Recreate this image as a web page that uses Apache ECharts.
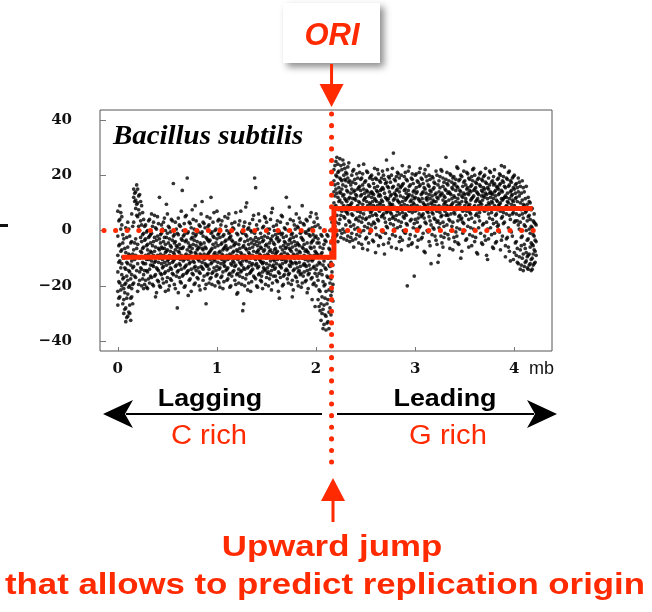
<!DOCTYPE html>
<html><head><meta charset="utf-8">
<script src="https://cdn.jsdelivr.net/npm/echarts@6/dist/echarts.min.js"></script>
<style>html,body{margin:0;padding:0;background:#fff}#c{width:652px;height:612px}</style>
</head><body><div id="c"></div>
<script>
// genome windows of 0.02 mb; skewWindows start at 0 mb, skewWindowsMid start at 0.01 mb.
// each row = skew values read in that window
const windowMb = 0.02;
const midOffsetMb = 0.01;
const skewWindows = [
[-2,-15,7,-22,-9,-27],[4,-11,-19,-5,9,-24],[-7,2,-16,-12,-20,5],[-25,-10,-30,-3,-17,-21],[-14,-28,1,-33,-8,-19],
[-18,-6,-31,-23,-12,3],[-27,-15,-2,-20,-9,-30],[-11,-24,-4,-16,6,-21],[12,-7,15,-13,3,-19],[8,14,-3,-17,11,-9],
[15,5,-12,10,-22,-5],[6,-10,13,-15,0,-18],[-4,9,-14,-20,2,-8],[-12,4,-6,-21,-1,-16],
[-3,-12,-18,2,-9],[-7,-15,0,-21,-5],[4,-10,-14,-2,-19],[-8,-1,-17,-11,6],[-13,-4,-20,3,-9],[-6,-16,1,-11,-24],
[-2,-9,-14,5,-18],[-10,-3,-20,-7,12],[2,-12,-6,-16,-1],[-9,-19,-4,3,-13],[-15,-5,0,-22,-8],[-1,-11,-17,6,-7],
[-12,-3,-9,-20,1],[-6,-14,4,-18,-10],[-8,-2,-16,-11,17],[3,-13,-7,-21,-4],[-10,-1,-15,-6,-28],[-5,-17,2,-12,-8],
[-14,-3,-9,7,-19],[0,-11,-6,-16,-2],[-9,-20,-4,5,-13],[-7,-15,-1,-10,19],[-12,3,-18,-6,-9],[-3,-14,-8,1,-22],
[-16,-5,-11,4,-1],[-8,-19,-2,-13,9],[-4,-10,-17,0,-7],[-11,2,-6,-15,-20],[-1,-13,-9,6,-5],[-14,-7,-18,-2,3],
[-6,-12,1,-10,-21],[-9,-3,-16,5,-13],[2,-8,-14,-4,-19],[-12,-1,-7,-17,12],[-5,-15,-10,3,-2],[-11,-6,-20,0,-8],
[-3,-13,-9,-16,7],
[-8,-1,-14,-19,4],[-12,-5,2,-10,-17],[-2,-15,-7,-21,-9],[5,-11,-4,-13,-6],[-9,-18,0,-7,-14],[-16,-3,-10,6,-1],
[-6,-12,-20,-2,-9],[1,-8,-15,-11,-4],[-13,-5,3,-18,-10],[-7,-16,-1,-9,-23],[-10,2,-14,-5,-19],[-3,-12,-8,7,-15],
[-17,-6,-1,-11,-29],[-4,-14,3,-9,-20],[-11,-2,-16,-7,10],[-8,-19,-5,1,-13],[0,-10,-15,-3,-22],[-14,-6,4,-12,-9],
[-5,-17,-1,-10,19],[-12,2,-8,-20,-4],[-7,-13,-3,6,-16],[-1,-11,-18,-6,-9],[-15,-4,1,-12,-21],[-9,-2,-14,5,-7],
[3,-10,-17,-5,-12],[-6,-15,-1,-9,-20],[-11,4,-7,-16,-3],[-2,-13,-8,-19,8],[-14,-5,0,-11,-7],[-8,-18,-3,2,-12],
[-4,-10,-15,-1,-22],[-13,3,-6,-17,-9],[-1,-12,-7,-20,5],[-10,-4,-16,1,-8],[-6,-14,-2,-11,12],[-16,0,-9,-5,-19],
[-3,-11,4,-13,-7],[-12,-6,-18,-1,-24],[2,-9,-14,-4,-10],[-7,-17,-2,6,-12],[-15,-5,1,-10,-20],[-1,-13,-8,3,-16],
[-10,-3,-19,-6,9],[-5,-12,2,-15,-9],[-13,-1,-7,-18,4],[-8,-16,0,-11,-21],[-2,-9,-14,5,-6],[-11,-4,-17,1,-25],
[-6,-13,3,-9,-19],[-14,-2,-8,-20,6],
[-9,-18,-3,-25,2],[-12,-22,-6,-29,1],[-16,-30,-8,-24,-2],[-20,-34,-11,-27,-5],[-14,-31,-4,-36,-22],[-10,-25,-17,-2,-33],
[-7,-19,-28,0,-13],[-4,-15,-22,-9,3],
[14,22,6,-3,18,10],[20,9,25,3,15,-2],[17,24,8,12,-4,21],[11,19,4,26,14,0],[22,7,15,-1,18,10],[13,20,5,24,9,-3],
[16,2,21,11,7,18],[9,23,14,-2,19,6],
[12,3,18,-4,9],[6,15,-1,20,10],[14,8,22,2,-6],[4,17,11,-3,13],[19,7,1,15,9],[10,-2,16,5,21],[3,13,8,19,-5],
[15,6,24,0,11],[8,18,-3,12,4],[21,9,14,1,-7],[5,16,10,-1,19],[12,2,20,7,14],[17,-4,9,13,3],[1,11,19,6,-8],
[14,22,4,9,16],[7,-2,13,18,10],[19,5,11,0,15],[9,15,-5,20,6],[3,12,17,8,-1],[16,7,22,1,11],[10,-3,14,4,19],
[13,20,6,-6,9],[5,16,11,2,28],[18,8,-2,13,4],[11,1,21,7,15],[6,14,-4,10,19],[20,3,9,16,-7],[8,17,12,0,5],
[15,-1,6,21,11],[2,12,18,9,-20],[13,7,-3,16,23],[9,19,4,11,-5],[17,1,14,8,10],[4,12,20,-2,7],[14,9,-6,18,3],
[6,16,11,1,21],[19,5,13,-3,8],[10,-1,17,6,14],[3,15,9,22,-8],[12,7,18,0,11],[16,-4,5,13,20],[8,14,2,10,-12],
[1,11,19,6,15],[13,4,-2,17,9],[7,20,12,-5,3],[18,9,1,14,-9],[5,13,22,8,-2],[11,-6,16,3,19],[15,7,10,-1,12],
[2,17,6,21,9],[14,-3,11,4,18],[9,20,0,13,6],[19,3,15,-7,10],[6,12,-4,17,8],[16,1,9,23,-2],[10,18,5,-5,13],
[4,14,20,8,-10],[12,-1,7,16,3],[25,9,13,0,18],[7,15,-3,10,21],[13,4,19,9,-6],[1,11,16,6,14],[18,8,-2,12,22],
[9,20,3,15,-4],[14,6,11,-8,17],[5,19,13,1,9],[16,-1,8,21,10],[11,14,2,18,-5],[20,7,12,-2,15],[3,13,17,9,-9],
[15,10,-3,19,6],[8,21,12,1,14],[13,4,18,-6,10],[17,9,-1,14,22],[6,16,11,3,-4],[19,2,13,9,15],[10,17,-7,7,20],
[14,5,11,-2,18],[8,23,16,3,12],[12,-3,9,19,6],[16,10,1,21,-6],[4,14,18,8,-11],[11,19,6,-2,13],[15,3,20,9,-8],
[12,-4,17,6,-9],[8,-12,14,2,19],[3,16,-7,10,-14],[11,-2,6,-10,18],[-5,9,14,-13,2],[7,-8,16,0,-11],
[-3,12,-14,5,-9],[4,-6,10,-12,-1],[-10,1,8,-5,-14],[-7,6,-2,-12,3],[-4,-9,2]
];
const skewWindowsMid = [
[-5.5,-18.5,3.5,-24.5,-11.5],[0.5,-13.5,-21.5,-7.5,6.5],[-9.5,-1.5,-17.5,-26.5,-4.5],[-22.5,-13.5,-28.5,-6.5,-19.5],[-11.5,-31.5,-2.5,-24.5,-16.5],
[-20.5,-8.5,-29.5,-14.5,0.5],[-24.5,-12.5,-4.5,-32.5,-17.5],[-8.5,-19.5,1.5,-13.5,-26.5],[10.5,-4.5,13.5,-10.5,-16.5],[5.5,16.5,-6.5,-14.5,9.5],
[12.5,1.5,-9.5,7.5,-19.5],[3.5,-13.5,10.5,-7.5,-2.5],[-1.5,6.5,-11.5,-17.5,-6.5],[-9.5,1.5,-14.5,-3.5,-19.5],
[-5.5,-14.5,-0.5,-10.5,-20.5],[-10.5,-2.5,-17.5,3.5,-8.5],[-1.5,-12.5,-7.5,-16.5,-4.5],[-12.5,-5.5,1.5,-19.5,-9.5],[-7.5,-16.5,-2.5,-11.5,5.5],
[-3.5,-9.5,-13.5,-22.5,0.5],[-11.5,-6.5,-18.5,2.5,-14.5],[-4.5,-15.5,-8.5,-1.5,-20.5],[-13.5,0.5,-10.5,-6.5,-17.5],[-6.5,-11.5,4.5,-15.5,-2.5],
[-2.5,-18.5,-7.5,-12.5,9.5],[-10.5,-4.5,-14.5,1.5,-21.5],[-7.5,-13.5,-0.5,-17.5,-5.5],[-15.5,-3.5,-9.5,3.5,-11.5],[-4.5,-10.5,-19.5,-1.5,-8.5],
[-9.5,0.5,-12.5,-16.5,-5.5],[-1.5,-14.5,-7.5,-22.5,4.5],[-12.5,-6.5,1.5,-10.5,-18.5],[-6.5,-16.5,-3.5,-9.5,14.5],[-10.5,-1.5,-13.5,-20.5,2.5],
[-3.5,-12.5,-8.5,5.5,-15.5],[-14.5,-4.5,-10.5,-0.5,-23.5],[-7.5,-17.5,2.5,-11.5,-5.5],[-2.5,-9.5,-15.5,-6.5,7.5],[-11.5,-3.5,-19.5,0.5,-13.5],
[-5.5,-14.5,-8.5,3.5,-1.5],[-13.5,-0.5,-10.5,-17.5,-6.5],[-8.5,-15.5,1.5,-4.5,-21.5],[-0.5,-11.5,-6.5,-13.5,10.5],[-10.5,-4.5,-16.5,2.5,-8.5],
[-6.5,-19.5,-2.5,-12.5,-26.5],[-12.5,1.5,-8.5,-15.5,-3.5],[-3.5,-10.5,-17.5,4.5,-7.5],[-15.5,-6.5,-0.5,-11.5,-19.5],[-8.5,-2.5,-13.5,6.5,-10.5],
[-4.5,-16.5,-9.5,0.5,-14.5],[-11.5,-1.5,-18.5,-5.5,3.5],
[-7.5,-13.5,-2.5,-20.5,0.5],[-10.5,-4.5,-16.5,3.5,-8.5],[-1.5,-12.5,-6.5,-18.5,-11.5],[-14.5,-5.5,1.5,-9.5,-3.5],[-6.5,-17.5,-10.5,4.5,-13.5],
[-2.5,-8.5,-15.5,-20.5,-0.5],[-12.5,-3.5,-9.5,2.5,-16.5],[-5.5,-14.5,0.5,-11.5,-7.5],[-9.5,-19.5,-4.5,6.5,-12.5],[-15.5,-1.5,-7.5,-10.5,-22.5],
[-3.5,-11.5,3.5,-16.5,-6.5],[-8.5,-14.5,-0.5,-19.5,-12.5],[-13.5,-5.5,-9.5,1.5,-26.5],[-1.5,-10.5,-17.5,-6.5,8.5],[-9.5,-3.5,-13.5,-21.5,0.5],
[-6.5,-15.5,2.5,-8.5,-11.5],[-12.5,-0.5,-18.5,-4.5,-14.5],[-3.5,-9.5,5.5,-16.5,-7.5],[-10.5,-17.5,-2.5,-12.5,15.5],[-7.5,-13.5,0.5,-20.5,-5.5],
[-15.5,-4.5,-10.5,3.5,-8.5],[-2.5,-11.5,-16.5,-6.5,-18.5],[-11.5,1.5,-7.5,-13.5,-3.5],[-5.5,-19.5,-9.5,4.5,-14.5],[-13.5,-2.5,-15.5,-8.5,0.5],
[0.5,-7.5,-12.5,-17.5,-4.5],[-9.5,-14.5,-3.5,-21.5,6.5],[-4.5,-12.5,1.5,-10.5,-16.5],[-16.5,-6.5,-1.5,-13.5,-8.5],[-7.5,-10.5,3.5,-18.5,-2.5],
[-12.5,-3.5,-15.5,-0.5,-24.5],[-1.5,-8.5,-13.5,5.5,-10.5],[-10.5,-16.5,-5.5,-2.5,-19.5],[-6.5,0.5,-11.5,-14.5,-4.5],[-14.5,-8.5,2.5,-17.5,-9.5],
[-3.5,-12.5,-6.5,8.5,-15.5],[-11.5,-1.5,-19.5,-7.5,-4.5],[-8.5,-14.5,-2.5,3.5,-21.5],[0.5,-9.5,-16.5,-5.5,-11.5],[-13.5,-4.5,-8.5,-18.5,1.5],
[-5.5,-11.5,4.5,-14.5,-7.5],[-9.5,-2.5,-15.5,-20.5,-0.5],[-3.5,-16.5,-6.5,2.5,-12.5],[-12.5,-7.5,-0.5,-10.5,-18.5],[-7.5,-14.5,3.5,-4.5,-22.5],
[-15.5,-1.5,-9.5,-12.5,0.5],[-4.5,-10.5,-17.5,6.5,-6.5],[-10.5,-3.5,-13.5,-19.5,-1.5],[-2.5,-15.5,-7.5,1.5,-27.5],[-8.5,-12.5,-4.5,-16.5,4.5],
[-11.5,-21.5,-4.5,-27.5,-15.5],[-8.5,-26.5,-14.5,-32.5,-1.5],[-18.5,-28.5,-6.5,-35.5,-12.5],[-13.5,-24.5,-30.5,-3.5,-19.5],[-16.5,-33.5,-9.5,-26.5,-1.5],
[-6.5,-21.5,-29.5,-12.5,-35.5],[-11.5,-23.5,-4.5,-17.5,-30.5],[-2.5,-12.5,-19.5,-8.5,-25.5],
[16.5,8.5,23.5,1.5,12.5],[19.5,5.5,13.5,26.5,-1.5],[10.5,21.5,2.5,15.5,7.5],[23.5,13.5,-2.5,18.5,5.5],[8.5,16.5,25.5,0.5,12.5],
[18.5,4.5,11.5,22.5,-0.5],[14.5,20.5,6.5,-3.5,10.5],[11.5,3.5,17.5,24.5,7.5],
[9.5,16.5,1.5,13.5,-2.5],[17.5,5.5,11.5,-3.5,21.5],[7.5,14.5,0.5,18.5,11.5],[12.5,-1.5,20.5,8.5,4.5],[15.5,3.5,10.5,23.5,-4.5],
[6.5,18.5,12.5,-0.5,14.5],[20.5,9.5,4.5,16.5,-6.5],[11.5,1.5,17.5,7.5,13.5],[4.5,14.5,21.5,10.5,-2.5],[16.5,7.5,-4.5,12.5,2.5],
[9.5,19.5,13.5,0.5,6.5],[13.5,5.5,18.5,-3.5,10.5],[2.5,15.5,8.5,22.5,11.5],[18.5,10.5,-1.5,14.5,5.5],[7.5,12.5,20.5,3.5,-5.5],
[14.5,-2.5,9.5,17.5,12.5],[10.5,21.5,5.5,-0.5,15.5],[4.5,13.5,18.5,7.5,-8.5],[17.5,6.5,11.5,1.5,25.5],[11.5,-4.5,15.5,8.5,19.5],
[6.5,17.5,2.5,12.5,9.5],[15.5,9.5,22.5,-1.5,4.5],[8.5,0.5,13.5,18.5,11.5],[19.5,12.5,5.5,-6.5,14.5],[3.5,10.5,16.5,7.5,20.5],
[12.5,-2.5,8.5,15.5,1.5],[16.5,6.5,23.5,10.5,-3.5],[9.5,14.5,-0.5,19.5,4.5],[5.5,18.5,11.5,2.5,13.5],[14.5,7.5,-5.5,12.5,21.5],
[10.5,3.5,16.5,-1.5,8.5],[18.5,12.5,6.5,20.5,-4.5],[2.5,9.5,14.5,-16.5,11.5],[13.5,20.5,7.5,0.5,15.5],[7.5,-3.5,11.5,17.5,4.5],
[16.5,10.5,1.5,22.5,8.5],[11.5,5.5,18.5,-2.5,13.5],[4.5,15.5,9.5,20.5,-7.5],[19.5,8.5,13.5,2.5,11.5],[9.5,-0.5,16.5,6.5,23.5],
[14.5,11.5,3.5,18.5,-5.5],[6.5,19.5,12.5,-1.5,9.5],[17.5,4.5,10.5,15.5,0.5],[10.5,13.5,-3.5,21.5,7.5],[3.5,16.5,8.5,11.5,-11.5],
[15.5,6.5,19.5,2.5,12.5],[8.5,21.5,13.5,-4.5,5.5],[12.5,1.5,17.5,9.5,-2.5],[18.5,10.5,5.5,14.5,26.5],[5.5,13.5,-1.5,8.5,16.5],
[13.5,8.5,20.5,3.5,-6.5],[9.5,15.5,1.5,17.5,11.5],[16.5,-2.5,12.5,6.5,19.5],[7.5,18.5,10.5,-0.5,14.5],[11.5,3.5,15.5,22.5,-4.5],
[14.5,9.5,5.5,18.5,0.5],[4.5,12.5,19.5,-7.5,10.5],[17.5,7.5,13.5,2.5,21.5],[10.5,16.5,-3.5,11.5,5.5],[13.5,1.5,20.5,8.5,15.5],
[6.5,14.5,9.5,-1.5,18.5],[19.5,11.5,4.5,16.5,-5.5],[8.5,22.5,12.5,0.5,14.5],[15.5,5.5,17.5,-2.5,10.5],[11.5,18.5,7.5,13.5,-8.5],
[3.5,10.5,16.5,20.5,6.5],[14.5,-4.5,9.5,18.5,12.5],[12.5,19.5,2.5,15.5,7.5],[17.5,8.5,13.5,-3.5,22.5],[7.5,15.5,0.5,11.5,-10.5],
[13.5,21.5,9.5,4.5,16.5],[10.5,-1.5,17.5,6.5,13.5],[16.5,11.5,2.5,19.5,-6.5],[5.5,14.5,8.5,-4.5,12.5],[18.5,7.5,15.5,10.5,1.5],
[9.5,20.5,13.5,-0.5,16.5],[14.5,4.5,11.5,23.5,-3.5],[11.5,17.5,6.5,2.5,19.5],[15.5,-5.5,12.5,8.5,-9.5],[8.5,13.5,18.5,-2.5,10.5],
[16.5,5.5,21.5,11.5,-7.5],[12.5,9.5,-0.5,17.5,14.5],[6.5,19.5,10.5,-10.5,15.5],[13.5,3.5,16.5,-4.5,11.5],
[10.5,-6.5,15.5,3.5,-11.5],[5.5,-9.5,12.5,0.5,17.5],[-2.5,13.5,-12.5,7.5,-5.5],[9.5,-8.5,4.5,-14.5,15.5],[-6.5,11.5,1.5,-11.5,6.5],
[3.5,-13.5,9.5,-3.5,-9.5],[-8.5,5.5,-12.5,0.5,10.5],[1.5,-10.5,-4.5,7.5,-14.5],[-5.5,-12.5,3.5,-8.5,-1.5],[-11.5,-3.5,2.5,-7.5]
];
// mean skew step (lagging / leading)
const stepX = [0.04, 2.18, 2.18, 4.185];
const stepY = [-9.7, -9.7, 8.0, 8.0];
const zeroLineX = [-0.14, 4.30];
const xTicks = [0, 1, 2, 3, 4];
const yTicks = [-40, -20, 0, 20, 40];
const oriMb = 2.156;

const RED = '#ff2a00';
const points = [];
skewWindows.forEach((vals, i) => vals.forEach(v => points.push([i * windowMb, v])));
skewWindowsMid.forEach((vals, i) => vals.forEach(v => points.push([midOffsetMb + i * windowMb, v])));

const chart = echarts.init(document.getElementById('c'), null, {renderer: 'canvas'});
const tickFont = {fontFamily: '"DejaVu Serif"', fontWeight: 'bold', fontSize: 15, color: '#111'};
chart.setOption({
  animation: false,
  backgroundColor: '#fff',
  grid: {left: 100, top: 110, width: 452, height: 241, show: true, borderColor: '#555', borderWidth: 1, backgroundColor: 'transparent'},
  xAxis: {
    type: 'value', min: -0.18, max: 4.38,
    splitLine: {show: false}, axisLine: {show: false, onZero: false},
    axisTick: {show: true, inside: true, length: 4, customValues: xTicks, lineStyle: {color: '#777'}},
    axisLabel: Object.assign({customValues: xTicks, margin: 11}, tickFont)
  },
  yAxis: {
    type: 'value', min: -43.6, max: 43.6,
    splitLine: {show: false}, axisLine: {show: false, onZero: false},
    axisTick: {show: true, inside: true, length: 6, customValues: yTicks, lineStyle: {color: '#777'}},
    axisLabel: Object.assign({customValues: yTicks, margin: 28,
      formatter: v => v < 0 ? '\u2212' + Math.abs(v) : String(v)}, tickFont)
  },
  series: [
    {type: 'scatter', data: points, symbol: 'circle', symbolSize: 3.7, itemStyle: {color: '#000'}, z: 2, silent: true, large: false},
    {type: 'line', data: zeroLineX.map(x => [x, 0]), symbol: 'none', z: 3,
      lineStyle: {color: RED, width: 5, type: [0.1, 11.5], cap: 'round'}},
    {type: 'line', data: stepX.map((x, i) => [x, stepY[i]]), symbol: 'none', z: 4,
      lineStyle: {color: RED, width: 5, cap: 'butt', join: 'miter'}}
  ]
});

const oriPx = chart.convertToPixel({xAxisIndex: 0, yAxisIndex: 0}, [oriMb, 0])[0];
const G = 'Liberation Sans';
chart.setOption({
  graphic: [
    {type: 'rect', z: 100, shape: {x: 0, y: 224, width: 8, height: 3}, style: {fill: '#111'}},
    {type: 'text', z: 100, x: 113, y: 137, scaleX: 1.07, style: {text: 'Bacillus subtilis', font: 'italic bold 27px "Liberation Serif"', fill: '#000', textVerticalAlign: 'middle'}},
    {type: 'text', z: 100, x: 529, y: 369, style: {text: 'mb', font: '18px "' + G + '"', fill: '#111', textVerticalAlign: 'middle'}},
    {type: 'text', z: 100, x: 210, y: 399, scaleX: 1.12, style: {text: 'Lagging', font: 'bold 24px "' + G + '"', fill: '#000', textAlign: 'center', textVerticalAlign: 'middle'}},
    {type: 'text', z: 100, x: 445, y: 399, scaleX: 1.12, style: {text: 'Leading', font: 'bold 24px "' + G + '"', fill: '#000', textAlign: 'center', textVerticalAlign: 'middle'}},
    {type: 'text', z: 100, x: 209, y: 437, scaleX: 1.08, style: {text: 'C rich', font: '27px "' + G + '"', fill: RED, textAlign: 'center', textVerticalAlign: 'middle'}},
    {type: 'text', z: 100, x: 448, y: 437, scaleX: 1.08, style: {text: 'G rich', font: '27px "' + G + '"', fill: RED, textAlign: 'center', textVerticalAlign: 'middle'}},
    {type: 'line', z: 100, shape: {x1: 126, y1: 414, x2: 322, y2: 414}, style: {stroke: '#000', lineWidth: 2}},
    {type: 'polygon', z: 100, shape: {points: [[103, 414], [133, 400], [125, 414], [133, 428]]}, style: {fill: '#000'}},
    {type: 'line', z: 100, shape: {x1: 337, y1: 414, x2: 534, y2: 414}, style: {stroke: '#000', lineWidth: 2}},
    {type: 'polygon', z: 100, shape: {points: [[557, 414], [527, 400], [535, 414], [527, 428]]}, style: {fill: '#000'}},
    {type: 'rect', z: 100, shape: {x: 283, y: 3, width: 97, height: 60}, style: {fill: '#fff', shadowBlur: 7, shadowOffsetX: 4, shadowOffsetY: 4, shadowColor: 'rgba(0,0,0,0.45)'}},
    {type: 'text', z: 101, x: 332, y: 36, style: {text: 'ORI', font: 'italic bold 31px "' + G + '"', fill: RED, textAlign: 'center', textVerticalAlign: 'middle'}},
    {type: 'line', z: 100, shape: {x1: oriPx, y1: 64, x2: oriPx, y2: 88}, style: {stroke: RED, lineWidth: 3}},
    {type: 'polygon', z: 100, shape: {points: [[oriPx - 12, 84], [oriPx + 12, 84], [oriPx, 107]]}, style: {fill: RED}},
    {type: 'line', z: 100, shape: {x1: oriPx, y1: 114, x2: oriPx, y2: 470}, style: {stroke: RED, lineWidth: 5, lineDash: [0.1, 11.5], lineCap: 'round'}},
    {type: 'polygon', z: 100, shape: {points: [[333, 478], [321, 501], [345, 501]]}, style: {fill: RED}},
    {type: 'line', z: 100, shape: {x1: 333, y1: 500, x2: 333, y2: 522}, style: {stroke: RED, lineWidth: 3}},
    {type: 'text', z: 100, x: 332, y: 548, scaleX: 1.16, style: {text: 'Upward jump', font: 'bold 30px "' + G + '"', fill: RED, textAlign: 'center', textVerticalAlign: 'middle'}},
    {type: 'text', z: 100, x: 325, y: 586, scaleX: 1.16, style: {text: 'that allows to predict replication origin', font: 'bold 30px "' + G + '"', fill: RED, textAlign: 'center', textVerticalAlign: 'middle'}}
  ]
});
</script></body></html>
